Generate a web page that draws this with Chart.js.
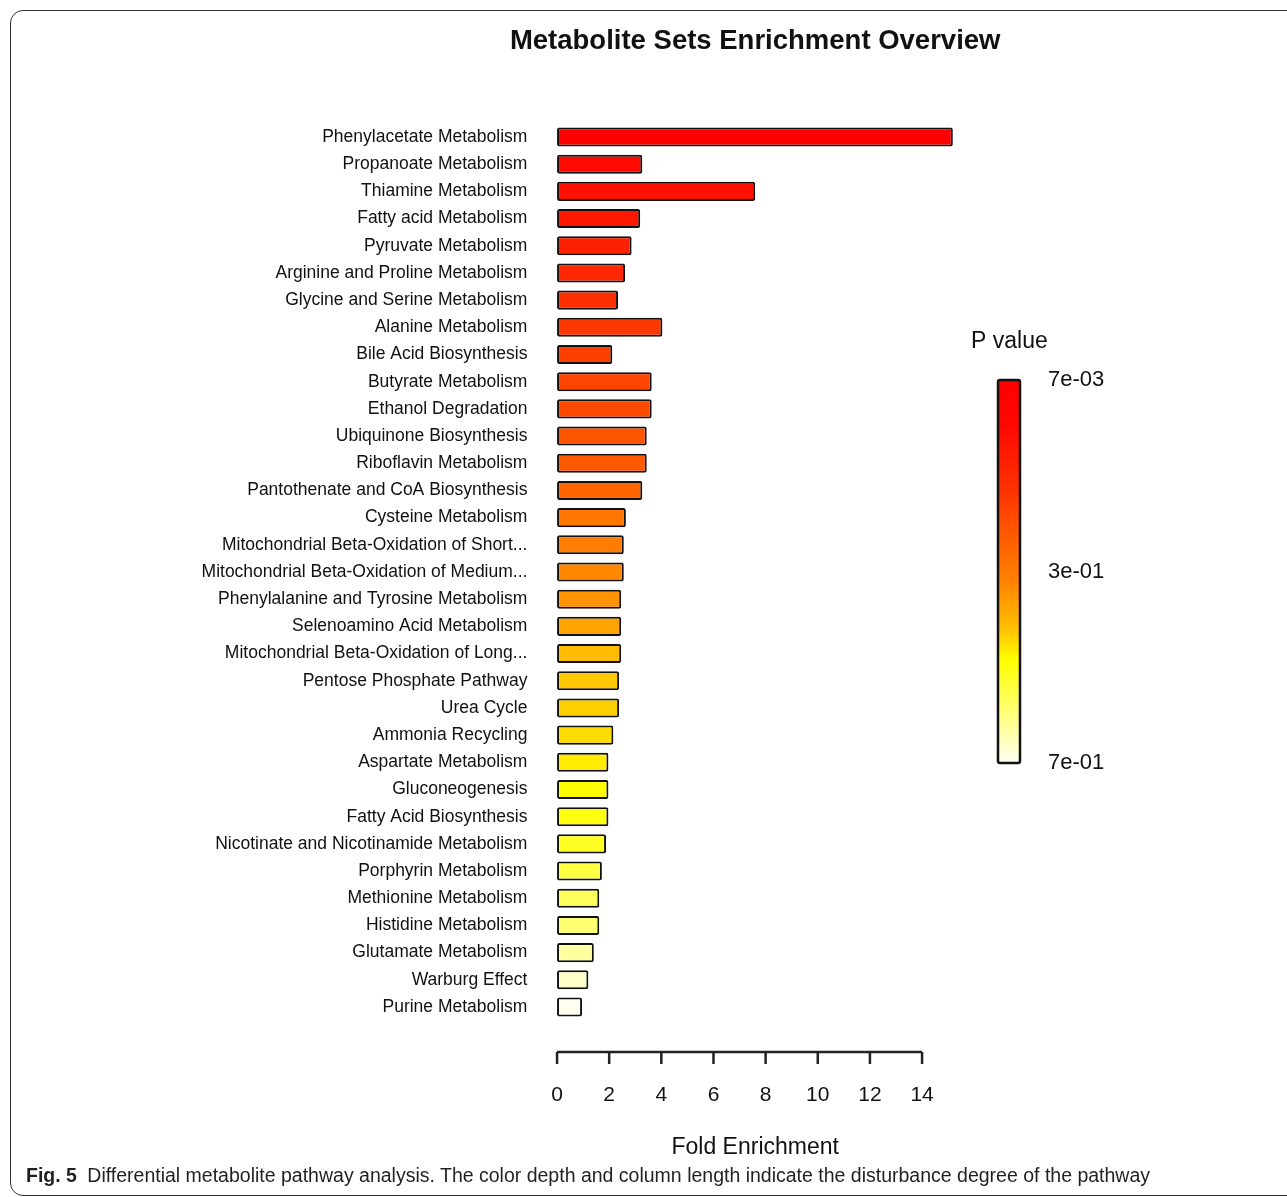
<!DOCTYPE html>
<html>
<head>
<meta charset="utf-8">
<script src="https://cdn.jsdelivr.net/npm/chart.js@4.4.0/dist/chart.umd.min.js"></script>
<style>
  html, body { margin: 0; padding: 0; width: 1287px; height: 1197px; overflow: hidden; background: #fff; }
  #frame { position: absolute; left: 10px; top: 10px; width: 1300px; height: 1186px;
           border: 1.5px solid #333; border-radius: 13px; box-sizing: border-box; }
  #plot { position: absolute; left: 0; top: 0; }
  #caption { position: absolute; left: 26px; top: 1164px; font-family: "Liberation Sans", Arial, sans-serif;
             font-size: 19.5px; color: #231f20; white-space: nowrap; }
  #caption b { margin-right: 5px; }
</style>
</head>
<body>
<div id="frame"></div>
<canvas id="plot" width="1287" height="1197"></canvas>
<div id="caption"><b>Fig. 5</b> Differential metabolite pathway analysis. The color depth and column length indicate the disturbance degree of the pathway</div>
<script>
const pathways = [
  'Phenylacetate Metabolism', 'Propanoate Metabolism', 'Thiamine Metabolism', 'Fatty acid Metabolism',
  'Pyruvate Metabolism', 'Arginine and Proline Metabolism', 'Glycine and Serine Metabolism', 'Alanine Metabolism',
  'Bile Acid Biosynthesis', 'Butyrate Metabolism', 'Ethanol Degradation', 'Ubiquinone Biosynthesis',
  'Riboflavin Metabolism', 'Pantothenate and CoA Biosynthesis', 'Cysteine Metabolism',
  'Mitochondrial Beta-Oxidation of Short...', 'Mitochondrial Beta-Oxidation of Medium...',
  'Phenylalanine and Tyrosine Metabolism', 'Selenoamino Acid Metabolism', 'Mitochondrial Beta-Oxidation of Long...',
  'Pentose Phosphate Pathway', 'Urea Cycle', 'Ammonia Recycling', 'Aspartate Metabolism', 'Gluconeogenesis',
  'Fatty Acid Biosynthesis', 'Nicotinate and Nicotinamide Metabolism', 'Porphyrin Metabolism',
  'Methionine Metabolism', 'Histidine Metabolism', 'Glutamate Metabolism', 'Warburg Effect', 'Purine Metabolism'
];
const foldEnrichment = [
  15.18, 3.27, 7.60, 3.19, 2.86, 2.61, 2.34, 4.04, 2.12, 3.63, 3.63, 3.44, 3.44, 3.27, 2.64, 2.56, 2.56,
  2.46, 2.46, 2.46, 2.38, 2.38, 2.16, 1.97, 1.97, 1.97, 1.88, 1.72, 1.62, 1.62, 1.41, 1.20, 0.96
];
// fill per bar, from lowest p value (red) to highest (pale yellow)
const barColors = [
  '#ff0000', '#ff0a00', '#ff1000', '#ff1800', '#ff2000', '#ff2800', '#ff3000', '#ff3800', '#ff3f00',
  '#ff4400', '#ff4a00', '#ff5400', '#ff5a00', '#ff6600', '#ff7600', '#ff7e00', '#ff8800', '#ff9400',
  '#ffa400', '#ffbc00', '#ffc800', '#ffd000', '#ffdc00', '#ffec00', '#ffff00', '#ffff10', '#ffff24',
  '#ffff44', '#ffff5c', '#ffff72', '#ffffa0', '#ffffc8', '#fffff0'
];
const xTicks = [0, 2, 4, 6, 8, 10, 12, 14];
const pValueLabels = ['7e-03', '3e-01', '7e-01'];
const chartTitle = 'Metabolite Sets Enrichment Overview';

const FAMILY = "'Liberation Sans', Arial, sans-serif";
Chart.defaults.font.family = FAMILY;
Chart.defaults.color = '#111';

// title over the plot region, R-style axis line with ticks hanging below, p value colour key
const extras = {
  id: 'extras',
  afterDraw(chart) {
    const ctx = chart.ctx;
    const area = chart.chartArea;
    const x = chart.scales.x;

    ctx.save();
    ctx.fillStyle = '#111';
    ctx.textAlign = 'center';
    ctx.textBaseline = 'middle';
    ctx.font = 'bold 27.5px ' + FAMILY;
    ctx.fillText(chartTitle, (area.left + area.right) / 2, 41);

    const axisY = area.bottom + 31.5;
    ctx.strokeStyle = '#222';
    ctx.lineWidth = 2.5;
    ctx.beginPath();
    ctx.moveTo(x.getPixelForValue(xTicks[0]), axisY);
    ctx.lineTo(x.getPixelForValue(xTicks[xTicks.length - 1]), axisY);
    xTicks.forEach(v => {
      const px = x.getPixelForValue(v);
      ctx.moveTo(px, axisY);
      ctx.lineTo(px, axisY + 12);
    });
    ctx.stroke();

    // colour key
    const kx = area.right + 29, ky = 380, kw = 22, kh = 383;
    const grad = ctx.createLinearGradient(0, ky, 0, ky + kh);
    grad.addColorStop(0, '#ff0000');
    grad.addColorStop(0.12, '#ff0800');
    grad.addColorStop(0.28, '#ff3000');
    grad.addColorStop(0.52, '#ff8000');
    grad.addColorStop(0.65, '#ffc000');
    grad.addColorStop(0.73, '#ffff00');
    grad.addColorStop(0.86, '#ffff70');
    grad.addColorStop(1, '#fffff4');
    ctx.fillStyle = grad;
    ctx.beginPath();
    ctx.roundRect(kx, ky, kw, kh, 2);
    ctx.fill();
    ctx.lineWidth = 2.5;
    ctx.strokeStyle = '#111';
    ctx.stroke();

    ctx.fillStyle = '#111';
    ctx.textAlign = 'left';
    ctx.font = '23px ' + FAMILY;
    ctx.fillText('P value', kx - 27, ky - 38);
    ctx.font = '22px ' + FAMILY;
    pValueLabels.forEach((t, i) => {
      ctx.fillText(t, kx + 50, ky + kh * i / (pValueLabels.length - 1));
    });
    ctx.restore();
  }
};

new Chart(document.getElementById('plot'), {
  type: 'bar',
  data: {
    labels: pathways,
    datasets: [{
      data: foldEnrichment,
      backgroundColor: barColors,
      borderColor: '#111',
      borderWidth: 2,
      borderRadius: 2,
      borderSkipped: false,
      barPercentage: 0.7,
      categoryPercentage: 1
    }]
  },
  options: {
    indexAxis: 'y',
    responsive: false,
    animation: false,
    layout: { padding: { left: 0, right: 318, top: 123.4, bottom: 0 } },
    plugins: {
      legend: { display: false },
      tooltip: { enabled: false },
      title: { display: false }
    },
    scales: {
      x: {
        min: -0.6,
        max: 15.8,
        grid: { display: false, drawTicks: false },
        border: { display: false },
        afterBuildTicks: s => { s.ticks = xTicks.map(v => ({ value: v })); },
        ticks: { font: { size: 21 }, color: '#111', padding: 62, maxRotation: 0, autoSkip: false },
        title: { display: true, text: 'Fold Enrichment', font: { size: 23 }, color: '#111', padding: { top: 0, bottom: 36 } },
        afterFit: s => { s.height = 176.4; }
      },
      y: {
        grid: { display: false, drawTicks: false },
        border: { display: false },
        ticks: { font: { size: 17.5 }, color: '#111', padding: 14, autoSkip: false },
        afterFit: s => { s.width = 541.4; }
      }
    }
  },
  plugins: [extras]
});
</script>
</body>
</html>
